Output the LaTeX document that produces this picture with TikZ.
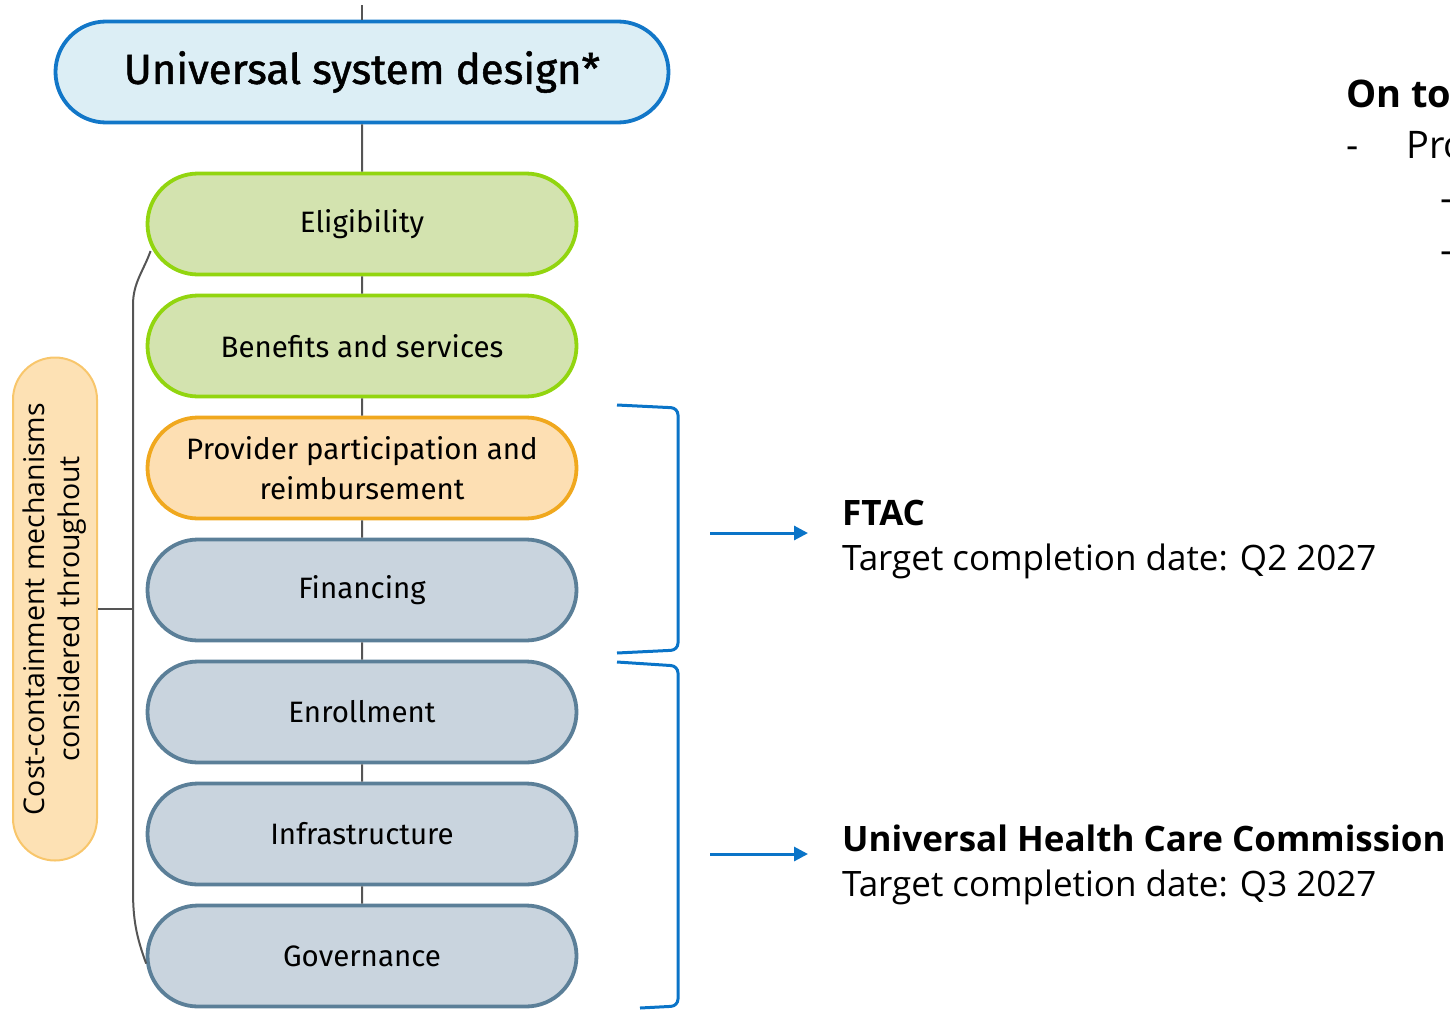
\documentclass[tikz,border=0pt]{standalone}
\usepackage{fontspec}
\setmainfont{Open Sans}
\newfontfamily\chartfont{Fira Sans}
\newfontfamily\titlefont{Fira Sans}[FakeBold=1.2]
\usetikzlibrary{shapes.misc,arrows.meta}

\definecolor{skyfill}{HTML}{DCEEF5}
\definecolor{skyline}{HTML}{1277C8}
\definecolor{leaffill}{HTML}{D3E3AF}
\definecolor{leafline}{HTML}{92D50F}
\definecolor{amberfill}{HTML}{FDDFB3}
\definecolor{amberline}{HTML}{F0A81E}
\definecolor{slatefill}{HTML}{C9D4DE}
\definecolor{slateline}{HTML}{5B7F98}
\definecolor{costfill}{HTML}{FDE1B4}
\definecolor{costline}{HTML}{F8C66B}
\definecolor{linkgray}{HTML}{555555}
\definecolor{markblue}{HTML}{0A74C8}

\begin{document}
\begin{tikzpicture}[x=1pt,y=-1pt,
        pill/.style={rounded rectangle, draw, line width=3.8pt, minimum width=429pt, minimum height=101pt,
            inner sep=0pt, align=center, font=\chartfont\fontsize{29.5}{40}\selectfont},
        leaf/.style={pill, fill=leaffill, draw=leafline},
        amber/.style={pill, fill=amberfill, draw=amberline},
        slate/.style={pill, fill=slatefill, draw=slateline},
        link/.style={draw=linkgray, line width=2pt},
        bracket/.style={draw=markblue, line width=3pt, rounded corners=7pt},
        flow/.style={draw=markblue, line width=3pt, -{Triangle[length=14pt,width=14pt]}},
        note/.style={anchor=base west, inner sep=0pt, font=\fontsize{35}{45}\selectfont},
        aside/.style={note, font=\fontsize{38}{45}\selectfont}]

    \path[use as bounding box, clip] (0,0) rectangle (1450,1009);

    \node[pill, fill=skyfill, draw=skyline, minimum width=613pt, font=\titlefont\fontsize{42}{48}\selectfont]
        (usd) at (362,72) {Universal system design*};
    \node[leaf]  (elig)  at (362,224) {Eligibility};
    \node[leaf]  (bens)  at (362,346) {Benefits and services};
    \node[amber] (prov)  at (362,468) {Provider participation and\\reimbursement};
    \node[slate] (fin)   at (362,590) {Financing};
    \node[slate] (enr)   at (362,712) {Enrollment};
    \node[slate] (infra) at (362,834) {Infrastructure};
    \node[slate] (gov)   at (362,956) {Governance};

    \node[rounded rectangle, rotate=90, draw=costline, fill=costfill, line width=2pt,
        minimum width=503pt, minimum height=84pt, inner sep=0pt, align=center,
        font=\fontsize{28.5}{35}\selectfont]
        (cost) at (55,609) {Cost-containment mechanisms\\considered throughout};

    \coordinate (stem) at (362,5);
    \coordinate (hub) at (133,609);
    \draw[link] (stem) -- (usd);
    \draw[link] (usd) -- (elig);
    \draw[link] (elig) -- (bens);
    \draw[link] (bens) -- (prov);
    \draw[link] (prov) -- (fin);
    \draw[link] (fin) -- (enr);
    \draw[link] (enr) -- (infra);
    \draw[link] (infra) -- (gov);
    \draw[link] ([shift={(5pt,-27pt)}]elig.west) to[out=250,in=90] (133,305)
        -- (133,890) to[out=270,in=110] (gov.182);
    \draw[link] (cost.south) -- (hub);

    \draw[bracket] (617,405) -- (678,408) -- (678,650) -- (617,653);
    \draw[bracket] (617,662) -- (678,666) -- (678,1006) -- (640,1008);

    \coordinate (ftacfrom) at (710,533);
    \coordinate (ftacto) at (808,533);
    \coordinate (uhccfrom) at (710,854);
    \coordinate (uhccto) at (808,854);
    \draw[flow] (ftacfrom) -- (ftacto);
    \draw[flow] (uhccfrom) -- (uhccto);

    \node[note] (ftac) at (842,525) {\bfseries FTAC};
    \node[note] (ftacdate) at (842,570) {Target completion date: Q2 2027};
    \node[note] (uhcc) at (842,851) {\bfseries Universal Health Care Commission};
    \node[note] (uhccdate) at (842,896) {Target completion date: Q3 2027};

    \node[aside] (ontop) at (1346,107) {\bfseries On to};
    \node[aside] (dasha) at (1346,158) {-};
    \node[aside] (pro) at (1406,158) {Pro};
    \node[aside] (dashb) at (1440,211) {-};
    \node[aside] (dashc) at (1440,263) {-};
\end{tikzpicture}
\end{document}
